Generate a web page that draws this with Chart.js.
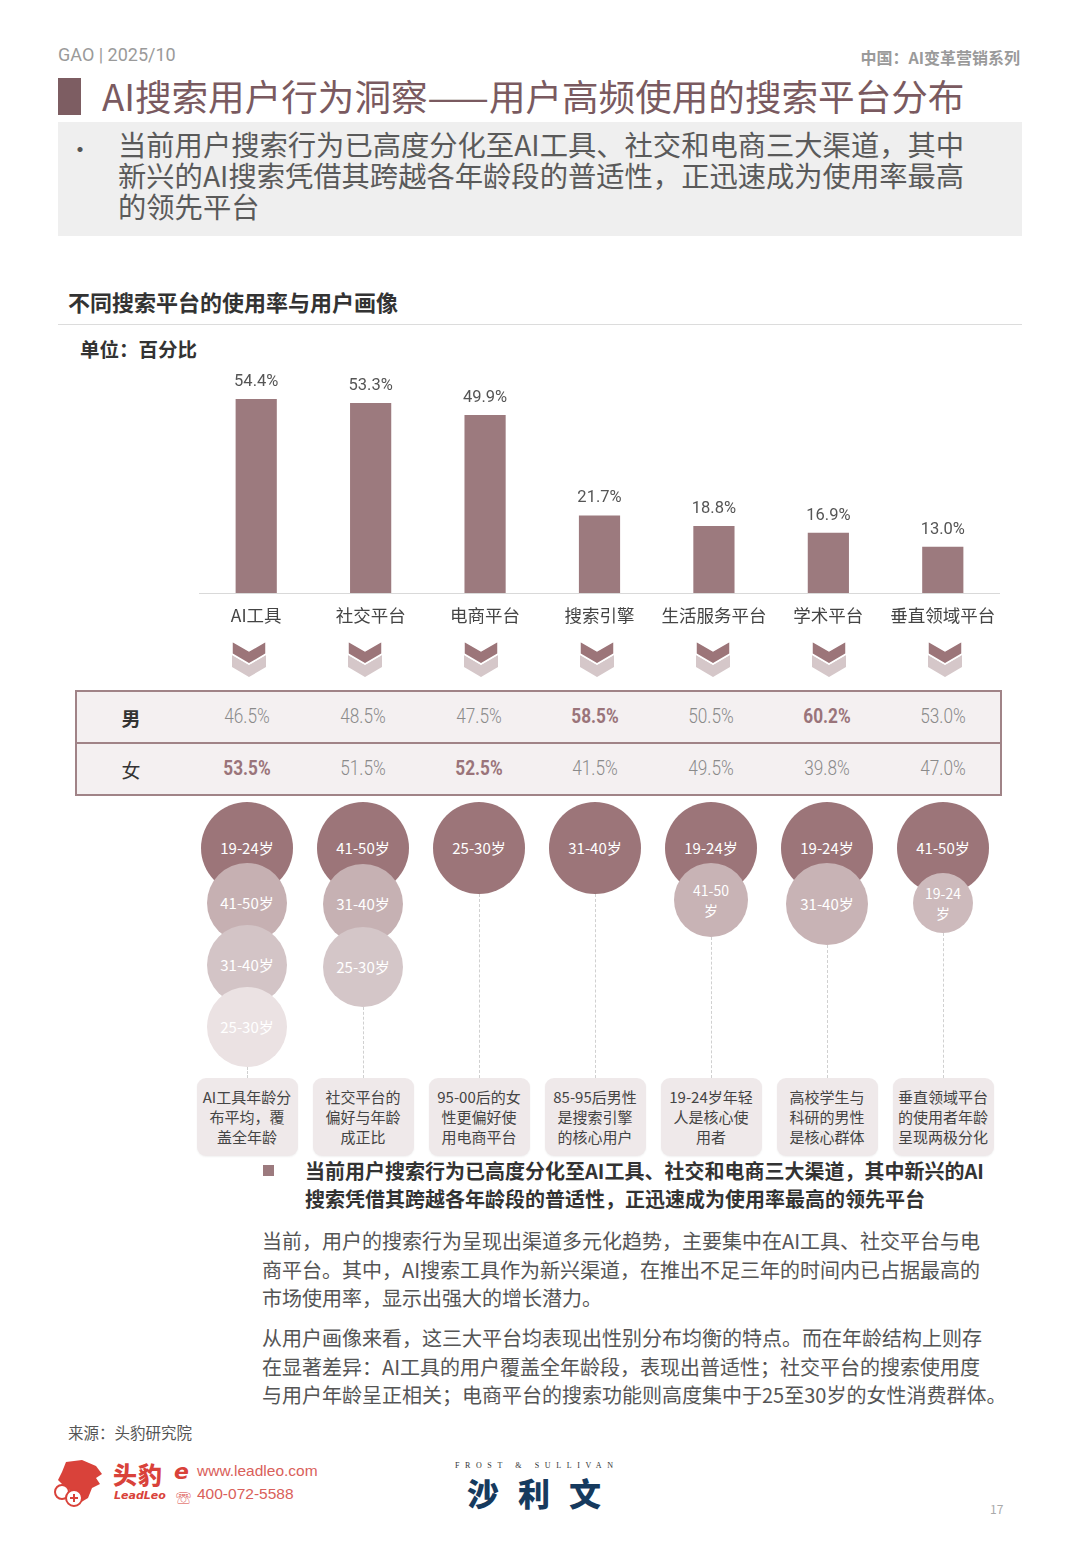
<!DOCTYPE html>
<html>
<head>
<meta charset="utf-8">
<script src="https://cdn.jsdelivr.net/npm/chart.js@4.4.1/dist/chart.umd.min.js"></script>
<style>
  * { margin: 0; padding: 0; box-sizing: border-box; }
  body { width: 1080px; height: 1560px; background: #fff; position: relative; overflow: hidden;
    font-family: "Noto Sans CJK SC", "Noto Sans", sans-serif; color: #444; }
  .abs { position: absolute; }
  #head-left { left: 58px; top: 44px; font-size: 18px; color: #9a9a9a; font-family: Roboto, sans-serif; }
  #head-right { right: 60px; top: 45px; font-size: 16px; color: #9a9a9a; font-weight: bold; }
  #title-bar { left: 58px; top: 78px; width: 23px; height: 37px; background: #7d5d62; }
  #title { left: 102px; top: 71px; font-size: 36.6px; color: #7a5a60; line-height: 50px; white-space: nowrap; }
  #lead-box { left: 58px; top: 122px; width: 964px; height: 114px; background: #efefef; }
  #lead-dot { left: 68px; top: 130px; font-size: 24px; color: #555; }
  #lead { left: 118px; top: 128px; font-size: 28.3px; line-height: 31px; color: #5a5a5a; white-space: nowrap; }
  #sub { left: 68px; top: 285px; font-size: 22px; font-weight: bold; color: #333; }
  #sub-line { left: 58px; top: 324px; width: 964px; height: 1px; background: #dcdcdc; }
  #unit { left: 80px; top: 334px; font-size: 19.5px; font-weight: bold; color: #333; }
  #chart-box { left: 199px; top: 360px; width: 801px; height: 270px; }
  .chev { top: 639px; width: 36px; height: 40px; }
  #tbl { left: 75px; top: 690px; width: 927px; height: 106px; border: 2px solid #a08387; background: #f4f0f1; }
  #tbl-mid { left: 75px; top: 742px; width: 927px; height: 2px; background: #a08387; }
  .rowlab { font-size: 19px; color: #333; width: 40px; text-align: center; }
  .cell { width: 110px; text-align: center; font-size: 20px; color: #8a8a8a; transform: scaleX(0.86);
    font-family: Roboto, sans-serif; font-weight: 300; }
  .cell.hi { font-weight: bold; color: #9a747a; }
  .bub { border-radius: 50%; color: #fff; display: flex; align-items: center; justify-content: center;
    text-align: center; font-size: 15px; line-height: 20px; }
  .dash { width: 0; border-left: 1px dashed #d0d0d0; }
  .note { top: 1078px; width: 101px; height: 78px; border-radius: 9px; background: #efe9ea;
    box-shadow: 0 1px 2px rgba(0,0,0,0.06); font-size: 15px; line-height: 20px; color: #444;
    display: flex; align-items: center; justify-content: center; text-align: center; white-space: nowrap; }
  #sq { left: 263px; top: 1165px; width: 11px; height: 11px; background: #9c7a7e; }
  #key { left: 305px; top: 1157px; font-size: 20px; line-height: 28px; font-weight: bold; color: #333; white-space: nowrap; }
  .para { left: 262px; font-size: 20px; line-height: 28.5px; color: #555; white-space: nowrap; }
  #src { left: 68px; top: 1421px; font-size: 15.5px; color: #555; }
  #pg { left: 990px; top: 1500px; font-size: 12px; color: #aaa; }
</style>
</head>
<body>
<div id="head-left" class="abs">GAO | 2025/10</div>
<div id="head-right" class="abs">中国：AI变革营销系列</div>
<div id="title-bar" class="abs"></div>
<div id="title" class="abs">AI搜索用户行为洞察——用户高频使用的搜索平台分布</div>
<div id="lead-box" class="abs"></div>
<div id="lead-dot" class="abs">•</div>
<div id="lead" class="abs">当前用户搜索行为已高度分化至AI工具、社交和电商三大渠道，其中<br>新兴的AI搜索凭借其跨越各年龄段的普适性，正迅速成为使用率最高<br>的领先平台</div>
<div id="sub" class="abs">不同搜索平台的使用率与用户画像</div>
<div id="sub-line" class="abs"></div>
<div id="unit" class="abs">单位：百分比</div>
<div id="chart-box" class="abs"><canvas id="chart"></canvas></div>
<div id="tbl" class="abs"></div>
<div id="tbl-mid" class="abs"></div>
<div id="sq" class="abs"></div>
<div id="key" class="abs">当前用户搜索行为已高度分化至AI工具、社交和电商三大渠道，其中新兴的AI<br>搜索凭借其跨越各年龄段的普适性，正迅速成为使用率最高的领先平台</div>
<div class="abs para" style="top:1227px">当前，用户的搜索行为呈现出渠道多元化趋势，主要集中在AI工具、社交平台与电<br>商平台。其中，AI搜索工具作为新兴渠道，在推出不足三年的时间内已占据最高的<br>市场使用率，显示出强大的增长潜力。</div>
<div class="abs para" style="top:1324px">从用户画像来看，这三大平台均表现出性别分布均衡的特点。而在年龄结构上则存<br>在显著差异：AI工具的用户覆盖全年龄段，表现出普适性；社交平台的搜索使用度<br>与用户年龄呈正相关；电商平台的搜索功能则高度集中于25至30岁的女性消费群体。</div>
<div id="src" class="abs">来源：头豹研究院</div>

<!-- footer logos -->
<svg class="abs" style="left:52px;top:1458px" width="52" height="50" viewBox="0 0 52 50">
  <path d="M14 4 L30 2 L44 8 L50 16 L44 20 L48 26 L40 30 L36 40 L26 46 L18 44 L22 34 L14 30 L6 22 L10 14 Z" fill="#d9423a"/>
  <circle cx="10" cy="34" r="7" fill="#fff" stroke="#d9423a" stroke-width="2"/>
  <circle cx="22" cy="40" r="8" fill="#fff" stroke="#d9423a" stroke-width="2"/>
  <path d="M18 40 h8 M22 36 v8" stroke="#d9423a" stroke-width="2"/>
</svg>
<div class="abs" style="left:113px;top:1456px;font-size:24px;font-weight:900;color:#d9423a;letter-spacing:1px">头豹</div>
<div class="abs" style="left:114px;top:1489px;font-size:11px;font-weight:bold;font-style:italic;color:#d9423a;font-family:'DejaVu Sans',sans-serif">LeadLeo</div>
<div class="abs" style="left:174px;top:1459px;font-size:22px;font-weight:bold;font-style:italic;color:#d9423a;font-family:'DejaVu Sans',sans-serif">e</div>
<div class="abs" style="left:176px;top:1486px;font-size:15px;color:#d9423a">☏</div>
<div class="abs" style="left:197px;top:1462px;font-size:15.5px;color:#d9605a;font-family:'Liberation Sans',sans-serif">www.leadleo.com</div>
<div class="abs" style="left:197px;top:1485px;font-size:15.5px;color:#d9605a;font-family:'Liberation Sans',sans-serif">400-072-5588</div>
<div class="abs" style="left:455px;top:1461px;font-size:8px;letter-spacing:5.6px;color:#333;font-family:'Liberation Serif',serif">FROST &amp; SULLIVAN</div>
<div class="abs" style="left:467px;top:1469px;font-size:32px;font-weight:900;letter-spacing:19px;color:#163a5e">沙利文</div>
<div id="pg" class="abs">17</div>

<script>
const platforms = ['AI工具', '社交平台', '电商平台', '搜索引擎', '生活服务平台', '学术平台', '垂直领域平台']
const usageRate = [54.4, 53.3, 49.9, 21.7, 18.8, 16.9, 13.0]
const maleShare = [46.5, 48.5, 47.5, 58.5, 50.5, 60.2, 53.0]
const femaleShare = [53.5, 51.5, 52.5, 41.5, 49.5, 39.8, 47.0]
const maleHighlight = [3, 5]
const femaleHighlight = [0, 2]
const ageGroups = [
  ['19-24岁', '41-50岁', '31-40岁', '25-30岁'],
  ['41-50岁', '31-40岁', '25-30岁'],
  ['25-30岁'],
  ['31-40岁'],
  ['19-24岁', '41-50岁'],
  ['19-24岁', '31-40岁'],
  ['41-50岁', '19-24岁'],
]
const notes = [
  'AI工具年龄分\n布平均，覆\n盖全年龄',
  '社交平台的\n偏好与年龄\n成正比',
  '95-00后的女\n性更偏好使\n用电商平台',
  '85-95后男性\n是搜索引擎\n的核心用户',
  '19-24岁年轻\n人是核心使\n用者',
  '高校学生与\n科研的男性\n是核心群体',
  '垂直领域平台\n的使用者年龄\n呈现两极分化',
]

// bubble look per column/level: [centerY, radius, colour, wrap]
const bubbleLook = [
  [[848, 46, '#9c7579'], [903, 40, '#c6b0b2'], [965, 40, '#d3c4c6'], [1027, 40, '#ebe2e3']],
  [[848, 46, '#9c7579'], [904, 40, '#c6b1b3'], [967, 40, '#d4c6c8']],
  [[848, 46, '#9c7579']],
  [[848, 46, '#9c7579']],
  [[848, 46, '#9c7579'], [900, 37, '#c8b3b5', true]],
  [[848, 46, '#9c7579'], [904, 41, '#c8b3b5']],
  [[848, 46, '#9c7579'], [903, 30, '#cdbabc', true]],
]

const BAR_COLOR = '#9c7a7e'
// lower block (table, bubbles, notes) sits on its own slightly wider grid
const lowerX = i => 247 + 116 * i

function addDiv(cls, css, html) {
  const d = document.createElement('div')
  d.className = 'abs ' + cls
  Object.assign(d.style, css)
  if (html !== undefined) d.innerHTML = html
  document.body.appendChild(d)
  return d
}

platforms.forEach((p, i) => {
  const cx = lowerX(i)
  const chev = addDiv('chev', {left: cx + 2 - 18 + 'px'})
  chev.innerHTML =
    `<svg width="36" height="40" viewBox="0 0 36 40">
      <polygon points="1,16 18,26 35,16 35,28 18,38 1,28" fill="#d5c7c9"/>
      <polygon points="1,2 18,12 35,2 35,15 18,25 1,15" fill="#9c7579" stroke="#fff" stroke-width="1.5"/>
    </svg>`

  addDiv('cell' + (maleHighlight.includes(i) ? ' hi' : ''),
    {left: cx - 55 + 'px', top: '704px'}, maleShare[i].toFixed(1) + '%')
  addDiv('cell' + (femaleHighlight.includes(i) ? ' hi' : ''),
    {left: cx - 55 + 'px', top: '756px'}, femaleShare[i].toFixed(1) + '%')

  const looks = bubbleLook[i]
  let bottom = 0
  ageGroups[i].forEach((age, k) => {
    const [cy, r, col, wrap] = looks[k]
    bottom = Math.max(bottom, cy + r)
    const label = wrap ? age.replace('岁', '<br>岁') : age
    addDiv('bub', {
      left: cx - r + 'px', top: cy - r + 'px', width: 2 * r + 'px', height: 2 * r + 'px',
      background: col, fontSize: wrap ? '14px' : '15px',
    }, label)
  })
  addDiv('dash', {left: Math.round(cx) + 'px', top: bottom + 'px', height: 1078 - bottom + 'px'})
  addDiv('note', {left: cx - 50.5 + 'px'}, notes[i].replace(/\n/g, '<br>'))
})
addDiv('rowlab', {left: '111px', top: '704px', fontWeight: 'bold'}, '男')
addDiv('rowlab', {left: '111px', top: '756px'}, '女')

const valueLabels = {
  id: 'valueLabels',
  afterDatasetsDraw(chart) {
    const {ctx} = chart
    const meta = chart.getDatasetMeta(0)
    ctx.save()
    ctx.font = '16.5px Roboto, sans-serif'
    ctx.fillStyle = '#555'
    ctx.textAlign = 'center'
    ctx.textBaseline = 'bottom'
    meta.data.forEach((bar, i) => {
      ctx.fillText(usageRate[i].toFixed(1) + '%', bar.x, bar.y - 9)
    })
    ctx.restore()
  },
}

new Chart(document.getElementById('chart'), {
  type: 'bar',
  data: {
    labels: platforms,
    datasets: [{
      data: usageRate,
      backgroundColor: BAR_COLOR,
      barPercentage: 0.36,
      categoryPercentage: 1,
    }],
  },
  options: {
    responsive: true,
    maintainAspectRatio: false,
    animation: false,
    layout: {padding: {top: 19, left: 0, right: 0, bottom: 0}},
    plugins: {legend: {display: false}, tooltip: {enabled: false}},
    scales: {
      x: {
        grid: {display: false},
        border: {display: true, color: '#d9d9d9', width: 1},
        ticks: {
          color: '#444', padding: 4, maxRotation: 0, autoSkip: false,
          font: {size: 17.5, family: '"Noto Sans CJK SC", sans-serif'},
        },
      },
      y: {display: false, min: 0, max: 60},
    },
  },
  plugins: [valueLabels],
})
</script>
</body>
</html>
